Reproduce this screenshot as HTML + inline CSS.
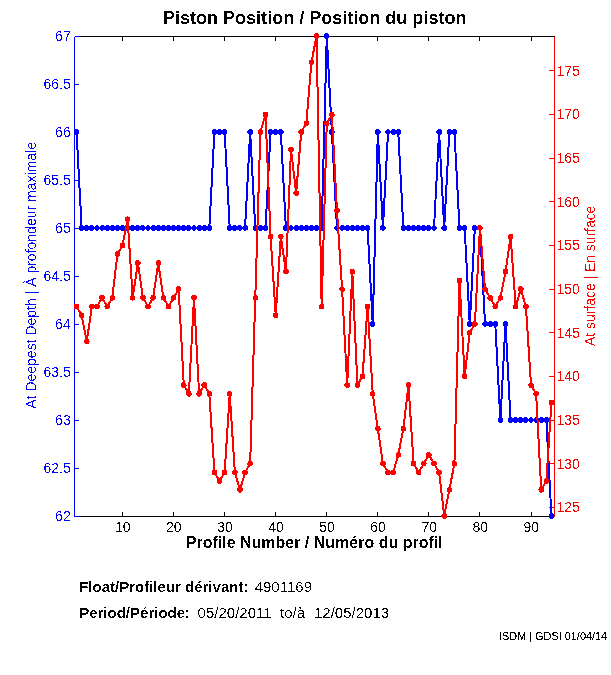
<!DOCTYPE html>
<html><head><meta charset="utf-8"><title>Piston Position</title>
<style>
html,body{margin:0;padding:0;background:#fff;}
body{width:611px;height:675px;overflow:hidden;}
svg{display:block;}
text{font-family:"Liberation Sans",sans-serif;}
</style></head><body>
<svg width="611" height="675" viewBox="0 0 611 675">
<rect x="0" y="0" width="611" height="675" fill="#ffffff"/>
<g shape-rendering="crispEdges" fill="none" stroke-width="1">
<path d="M74.5 36.5H554.5M74.5 516.5H554.5" stroke="#000"/>
<path d="M122.5 516.5v-5M122.5 36.5v4M173.5 516.5v-5M173.5 36.5v4M224.5 516.5v-5M224.5 36.5v4M275.5 516.5v-5M275.5 36.5v4M326.5 516.5v-5M326.5 36.5v4M377.5 516.5v-5M377.5 36.5v4M428.5 516.5v-5M428.5 36.5v4M479.5 516.5v-5M479.5 36.5v4M531.5 516.5v-5M531.5 36.5v4" stroke="#000"/>
<path d="M74.5 36.5V516.5M74.5 516.5h4M74.5 468.5h4M74.5 420.5h4M74.5 372.5h4M74.5 324.5h4M74.5 276.5h4M74.5 228.5h4M74.5 180.5h4M74.5 132.5h4M74.5 84.5h4M74.5 36.5h4" stroke="#0000ff"/>
<path d="M554.5 36.5V516.5M554.5 507.5h-6M554.5 463.5h-6M554.5 420.5h-6M554.5 376.5h-6M554.5 332.5h-6M554.5 289.5h-6M554.5 245.5h-6M554.5 201.5h-6M554.5 158.5h-6M554.5 114.5h-6M554.5 70.5h-6" stroke="#ff0000"/>
</g>
<g shape-rendering="crispEdges"><polyline fill="none" stroke="#0000ff" stroke-width="2" stroke-linejoin="round" points="76.55,132 81.66,228 86.77,228 91.87,228 96.98,228 102.09,228 107.19,228 112.3,228 117.4,228 122.51,228 127.62,228 132.72,228 137.83,228 142.94,228 148.04,228 153.15,228 158.26,228 163.36,228 168.47,228 173.57,228 178.68,228 183.79,228 188.89,228 194,228 199.11,228 204.21,228 209.32,228 214.43,132 219.53,132 224.64,132 229.74,228 234.85,228 239.96,228 245.06,228 250.17,132 255.28,228 260.38,228 265.49,228 270.6,132 275.7,132 280.81,132 285.91,228 291.02,228 296.13,228 301.23,228 306.34,228 311.45,228 316.55,228 321.66,228 326.77,36 331.87,132 336.98,228 342.09,228 347.19,228 352.3,228 357.4,228 362.51,228 367.62,228 372.72,324 377.83,132 382.94,228 388.04,132 393.15,132 398.26,132 403.36,228 408.47,228 413.57,228 418.68,228 423.79,228 428.89,228 434,228 439.11,132 444.21,228 449.32,132 454.43,132 459.53,228 464.64,228 469.74,324 474.85,228 479.96,228 485.06,324 490.17,324 495.28,324 500.38,420 505.49,324 510.6,420 515.7,420 520.81,420 525.91,420 531.02,420 536.13,420 541.23,420 546.34,420 551.45,516"/>
<g fill="#0000ff"><circle cx="76.55" cy="132" r="2.8"/><circle cx="81.66" cy="228" r="2.8"/><circle cx="86.77" cy="228" r="2.8"/><circle cx="91.87" cy="228" r="2.8"/><circle cx="96.98" cy="228" r="2.8"/><circle cx="102.09" cy="228" r="2.8"/><circle cx="107.19" cy="228" r="2.8"/><circle cx="112.3" cy="228" r="2.8"/><circle cx="117.4" cy="228" r="2.8"/><circle cx="122.51" cy="228" r="2.8"/><circle cx="127.62" cy="228" r="2.8"/><circle cx="132.72" cy="228" r="2.8"/><circle cx="137.83" cy="228" r="2.8"/><circle cx="142.94" cy="228" r="2.8"/><circle cx="148.04" cy="228" r="2.8"/><circle cx="153.15" cy="228" r="2.8"/><circle cx="158.26" cy="228" r="2.8"/><circle cx="163.36" cy="228" r="2.8"/><circle cx="168.47" cy="228" r="2.8"/><circle cx="173.57" cy="228" r="2.8"/><circle cx="178.68" cy="228" r="2.8"/><circle cx="183.79" cy="228" r="2.8"/><circle cx="188.89" cy="228" r="2.8"/><circle cx="194" cy="228" r="2.8"/><circle cx="199.11" cy="228" r="2.8"/><circle cx="204.21" cy="228" r="2.8"/><circle cx="209.32" cy="228" r="2.8"/><circle cx="214.43" cy="132" r="2.8"/><circle cx="219.53" cy="132" r="2.8"/><circle cx="224.64" cy="132" r="2.8"/><circle cx="229.74" cy="228" r="2.8"/><circle cx="234.85" cy="228" r="2.8"/><circle cx="239.96" cy="228" r="2.8"/><circle cx="245.06" cy="228" r="2.8"/><circle cx="250.17" cy="132" r="2.8"/><circle cx="255.28" cy="228" r="2.8"/><circle cx="260.38" cy="228" r="2.8"/><circle cx="265.49" cy="228" r="2.8"/><circle cx="270.6" cy="132" r="2.8"/><circle cx="275.7" cy="132" r="2.8"/><circle cx="280.81" cy="132" r="2.8"/><circle cx="285.91" cy="228" r="2.8"/><circle cx="291.02" cy="228" r="2.8"/><circle cx="296.13" cy="228" r="2.8"/><circle cx="301.23" cy="228" r="2.8"/><circle cx="306.34" cy="228" r="2.8"/><circle cx="311.45" cy="228" r="2.8"/><circle cx="316.55" cy="228" r="2.8"/><circle cx="321.66" cy="228" r="2.8"/><circle cx="326.77" cy="36" r="2.8"/><circle cx="331.87" cy="132" r="2.8"/><circle cx="336.98" cy="228" r="2.8"/><circle cx="342.09" cy="228" r="2.8"/><circle cx="347.19" cy="228" r="2.8"/><circle cx="352.3" cy="228" r="2.8"/><circle cx="357.4" cy="228" r="2.8"/><circle cx="362.51" cy="228" r="2.8"/><circle cx="367.62" cy="228" r="2.8"/><circle cx="372.72" cy="324" r="2.8"/><circle cx="377.83" cy="132" r="2.8"/><circle cx="382.94" cy="228" r="2.8"/><circle cx="388.04" cy="132" r="2.8"/><circle cx="393.15" cy="132" r="2.8"/><circle cx="398.26" cy="132" r="2.8"/><circle cx="403.36" cy="228" r="2.8"/><circle cx="408.47" cy="228" r="2.8"/><circle cx="413.57" cy="228" r="2.8"/><circle cx="418.68" cy="228" r="2.8"/><circle cx="423.79" cy="228" r="2.8"/><circle cx="428.89" cy="228" r="2.8"/><circle cx="434" cy="228" r="2.8"/><circle cx="439.11" cy="132" r="2.8"/><circle cx="444.21" cy="228" r="2.8"/><circle cx="449.32" cy="132" r="2.8"/><circle cx="454.43" cy="132" r="2.8"/><circle cx="459.53" cy="228" r="2.8"/><circle cx="464.64" cy="228" r="2.8"/><circle cx="469.74" cy="324" r="2.8"/><circle cx="474.85" cy="228" r="2.8"/><circle cx="479.96" cy="228" r="2.8"/><circle cx="485.06" cy="324" r="2.8"/><circle cx="490.17" cy="324" r="2.8"/><circle cx="495.28" cy="324" r="2.8"/><circle cx="500.38" cy="420" r="2.8"/><circle cx="505.49" cy="324" r="2.8"/><circle cx="510.6" cy="420" r="2.8"/><circle cx="515.7" cy="420" r="2.8"/><circle cx="520.81" cy="420" r="2.8"/><circle cx="525.91" cy="420" r="2.8"/><circle cx="531.02" cy="420" r="2.8"/><circle cx="536.13" cy="420" r="2.8"/><circle cx="541.23" cy="420" r="2.8"/><circle cx="546.34" cy="420" r="2.8"/><circle cx="551.45" cy="516" r="2.8"/></g></g>
<g shape-rendering="crispEdges"><polyline fill="none" stroke="#ff0000" stroke-width="2" stroke-linejoin="round" points="76.55,306.55 81.66,315.27 86.77,341.45 91.87,306.55 96.98,306.55 102.09,297.82 107.19,306.55 112.3,297.82 117.4,254.18 122.51,245.45 127.62,219.27 132.72,297.82 137.83,262.91 142.94,297.82 148.04,306.55 153.15,297.82 158.26,262.91 163.36,297.82 168.47,306.55 173.57,297.82 178.68,289.09 183.79,385.09 188.89,393.82 194,297.82 199.11,393.82 204.21,385.09 209.32,393.82 214.43,472.36 219.53,481.09 224.64,472.36 229.74,393.82 234.85,472.36 239.96,489.82 245.06,472.36 250.17,463.64 255.28,297.82 260.38,132 265.49,114.55 270.6,236.73 275.7,315.27 280.81,236.73 285.91,271.64 291.02,149.45 296.13,193.09 301.23,132 306.34,123.27 311.45,62.18 316.55,36 321.66,306.55 326.77,123.27 331.87,114.55 336.98,210.55 342.09,289.09 347.19,385.09 352.3,271.64 357.4,385.09 362.51,376.36 367.62,306.55 372.72,393.82 377.83,428.73 382.94,463.64 388.04,472.36 393.15,472.36 398.26,454.91 403.36,428.73 408.47,385.09 413.57,463.64 418.68,472.36 423.79,463.64 428.89,454.91 434,463.64 439.11,472.36 444.21,516 449.32,489.82 454.43,463.64 459.53,280.36 464.64,376.36 469.74,332.73 474.85,324 479.96,228 485.06,289.09 490.17,297.82 495.28,306.55 500.38,297.82 505.49,271.64 510.6,236.73 515.7,306.55 520.81,289.09 525.91,306.55 531.02,385.09 536.13,393.82 541.23,489.82 546.34,481.09 551.45,402.55"/>
<g fill="#ff0000"><circle cx="76.55" cy="306.55" r="2.8"/><circle cx="81.66" cy="315.27" r="2.8"/><circle cx="86.77" cy="341.45" r="2.8"/><circle cx="91.87" cy="306.55" r="2.8"/><circle cx="96.98" cy="306.55" r="2.8"/><circle cx="102.09" cy="297.82" r="2.8"/><circle cx="107.19" cy="306.55" r="2.8"/><circle cx="112.3" cy="297.82" r="2.8"/><circle cx="117.4" cy="254.18" r="2.8"/><circle cx="122.51" cy="245.45" r="2.8"/><circle cx="127.62" cy="219.27" r="2.8"/><circle cx="132.72" cy="297.82" r="2.8"/><circle cx="137.83" cy="262.91" r="2.8"/><circle cx="142.94" cy="297.82" r="2.8"/><circle cx="148.04" cy="306.55" r="2.8"/><circle cx="153.15" cy="297.82" r="2.8"/><circle cx="158.26" cy="262.91" r="2.8"/><circle cx="163.36" cy="297.82" r="2.8"/><circle cx="168.47" cy="306.55" r="2.8"/><circle cx="173.57" cy="297.82" r="2.8"/><circle cx="178.68" cy="289.09" r="2.8"/><circle cx="183.79" cy="385.09" r="2.8"/><circle cx="188.89" cy="393.82" r="2.8"/><circle cx="194" cy="297.82" r="2.8"/><circle cx="199.11" cy="393.82" r="2.8"/><circle cx="204.21" cy="385.09" r="2.8"/><circle cx="209.32" cy="393.82" r="2.8"/><circle cx="214.43" cy="472.36" r="2.8"/><circle cx="219.53" cy="481.09" r="2.8"/><circle cx="224.64" cy="472.36" r="2.8"/><circle cx="229.74" cy="393.82" r="2.8"/><circle cx="234.85" cy="472.36" r="2.8"/><circle cx="239.96" cy="489.82" r="2.8"/><circle cx="245.06" cy="472.36" r="2.8"/><circle cx="250.17" cy="463.64" r="2.8"/><circle cx="255.28" cy="297.82" r="2.8"/><circle cx="260.38" cy="132" r="2.8"/><circle cx="265.49" cy="114.55" r="2.8"/><circle cx="270.6" cy="236.73" r="2.8"/><circle cx="275.7" cy="315.27" r="2.8"/><circle cx="280.81" cy="236.73" r="2.8"/><circle cx="285.91" cy="271.64" r="2.8"/><circle cx="291.02" cy="149.45" r="2.8"/><circle cx="296.13" cy="193.09" r="2.8"/><circle cx="301.23" cy="132" r="2.8"/><circle cx="306.34" cy="123.27" r="2.8"/><circle cx="311.45" cy="62.18" r="2.8"/><circle cx="316.55" cy="36" r="2.8"/><circle cx="321.66" cy="306.55" r="2.8"/><circle cx="326.77" cy="123.27" r="2.8"/><circle cx="331.87" cy="114.55" r="2.8"/><circle cx="336.98" cy="210.55" r="2.8"/><circle cx="342.09" cy="289.09" r="2.8"/><circle cx="347.19" cy="385.09" r="2.8"/><circle cx="352.3" cy="271.64" r="2.8"/><circle cx="357.4" cy="385.09" r="2.8"/><circle cx="362.51" cy="376.36" r="2.8"/><circle cx="367.62" cy="306.55" r="2.8"/><circle cx="372.72" cy="393.82" r="2.8"/><circle cx="377.83" cy="428.73" r="2.8"/><circle cx="382.94" cy="463.64" r="2.8"/><circle cx="388.04" cy="472.36" r="2.8"/><circle cx="393.15" cy="472.36" r="2.8"/><circle cx="398.26" cy="454.91" r="2.8"/><circle cx="403.36" cy="428.73" r="2.8"/><circle cx="408.47" cy="385.09" r="2.8"/><circle cx="413.57" cy="463.64" r="2.8"/><circle cx="418.68" cy="472.36" r="2.8"/><circle cx="423.79" cy="463.64" r="2.8"/><circle cx="428.89" cy="454.91" r="2.8"/><circle cx="434" cy="463.64" r="2.8"/><circle cx="439.11" cy="472.36" r="2.8"/><circle cx="444.21" cy="516" r="2.8"/><circle cx="449.32" cy="489.82" r="2.8"/><circle cx="454.43" cy="463.64" r="2.8"/><circle cx="459.53" cy="280.36" r="2.8"/><circle cx="464.64" cy="376.36" r="2.8"/><circle cx="469.74" cy="332.73" r="2.8"/><circle cx="474.85" cy="324" r="2.8"/><circle cx="479.96" cy="228" r="2.8"/><circle cx="485.06" cy="289.09" r="2.8"/><circle cx="490.17" cy="297.82" r="2.8"/><circle cx="495.28" cy="306.55" r="2.8"/><circle cx="500.38" cy="297.82" r="2.8"/><circle cx="505.49" cy="271.64" r="2.8"/><circle cx="510.6" cy="236.73" r="2.8"/><circle cx="515.7" cy="306.55" r="2.8"/><circle cx="520.81" cy="289.09" r="2.8"/><circle cx="525.91" cy="306.55" r="2.8"/><circle cx="531.02" cy="385.09" r="2.8"/><circle cx="536.13" cy="393.82" r="2.8"/><circle cx="541.23" cy="489.82" r="2.8"/><circle cx="546.34" cy="481.09" r="2.8"/><circle cx="551.45" cy="402.55" r="2.8"/></g></g>
<defs><filter id="bw" filterUnits="userSpaceOnUse" x="0" y="0" width="611" height="675" color-interpolation-filters="sRGB"><feComponentTransfer><feFuncA type="discrete" tableValues="0 0 0 0 0 0 0 0 0 0 0 1 1 1 1 1 1 1 1 1"/></feComponentTransfer></filter></defs>
<g filter="url(#bw)">
<g font-size="14px" fill="#000" text-anchor="middle">
<text x="122.81" y="532">10</text><text x="173.87" y="532">20</text><text x="224.94" y="532">30</text><text x="276" y="532">40</text><text x="327.07" y="532">50</text><text x="378.13" y="532">60</text><text x="429.19" y="532">70</text><text x="480.26" y="532">80</text><text x="531.32" y="532">90</text>
</g>
<g font-size="14px" fill="#0000ff" text-anchor="end">
<text x="70.7" y="520.7">62</text><text x="70.7" y="472.7">62.5</text><text x="70.7" y="424.7">63</text><text x="70.7" y="376.7">63.5</text><text x="70.7" y="328.7">64</text><text x="70.7" y="280.7">64.5</text><text x="70.7" y="232.7">65</text><text x="70.7" y="184.7">65.5</text><text x="70.7" y="136.7">66</text><text x="70.7" y="88.7">66.5</text><text x="70.7" y="40.7">67</text>
</g>
<g font-size="14px" fill="#ff0000" text-anchor="start">
<text x="556.5" y="512.17">125</text><text x="556.5" y="468.54">130</text><text x="556.5" y="424.9">135</text><text x="556.5" y="381.26">140</text><text x="556.5" y="337.63">145</text><text x="556.5" y="293.99">150</text><text x="556.5" y="250.35">155</text><text x="556.5" y="206.72">160</text><text x="556.5" y="163.08">165</text><text x="556.5" y="119.45">170</text><text x="556.5" y="75.81">175</text>
</g>
<text x="314.7" y="24" font-size="18.05px" font-weight="bold" text-anchor="middle" fill="#000">Piston Position / Position du piston</text>
<text x="314.2" y="548" font-size="16px" font-weight="bold" text-anchor="middle" fill="#000">Profile Number / Numéro du profil</text>
<text transform="translate(36.4 275.4) rotate(-90)" font-size="14px" text-anchor="middle" fill="#0000ff">At Deepest Depth | À profondeur maximale</text>
<text transform="translate(595.3 275.8) rotate(-90)" font-size="13.9px" text-anchor="middle" fill="#ff0000">At surface | En surface</text>
<g font-size="15px" fill="#000">
<text x="79.2" y="592" font-weight="bold">Float/Profileur dérivant:</text><text x="254.7" y="592">4901169</text>
<text x="79.2" y="618" font-weight="bold">Period/Période:</text><text x="197.6" y="618">05/20/2011</text><text x="280" y="618">to/à</text><text x="314" y="618">12/05/2013</text>
</g>
</g>
<defs><filter id="bw2" filterUnits="userSpaceOnUse" x="0" y="0" width="611" height="675" color-interpolation-filters="sRGB"><feComponentTransfer><feFuncA type="discrete" tableValues="0 0 0 0 0 0 0 0 0 1 1 1 1 1 1 1 1 1 1 1"/></feComponentTransfer></filter></defs>
<g filter="url(#bw2)"><text x="499.0" y="640" font-size="10.9px" fill="#000">ISDM | GDSI 01/04/14</text></g>
</svg>
</body></html>
